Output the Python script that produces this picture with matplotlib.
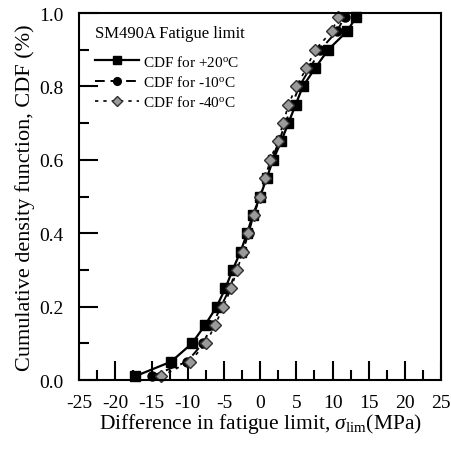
import matplotlib.pyplot as plt
from matplotlib.ticker import MultipleLocator

plt.rcParams["font.family"] = ["Liberation Serif", "DejaVu Serif"]
plt.rcParams["mathtext.fontset"] = "custom"
plt.rcParams["mathtext.rm"] = "Liberation Serif"
plt.rcParams["mathtext.it"] = "Liberation Serif:italic"
plt.rcParams["axes.unicode_minus"] = False

cdf = [0.01, 0.05, 0.10, 0.15, 0.20, 0.25, 0.30, 0.35, 0.40, 0.45, 0.50,
       0.55, 0.60, 0.65, 0.70, 0.75, 0.80, 0.85, 0.90, 0.95, 0.99]
diff_p20 = [-17.3, -12.3, -9.4, -7.6, -6.0, -4.8, -3.8, -2.7, -1.8, -1.0, 0.0,
            0.9, 1.8, 2.9, 3.9, 4.9, 5.9, 7.6, 9.4, 12.0, 13.3]
diff_m10 = [-15.0, -10.1, -7.9, -6.6, -5.4, -4.2, -3.3, -2.4, -1.6, -0.9, 0.0,
            0.8, 1.6, 2.6, 3.5, 4.4, 5.4, 6.9, 8.3, 10.6, 11.7]
diff_m40 = [-13.7, -9.7, -7.5, -6.2, -5.1, -4.0, -3.2, -2.3, -1.7, -0.9, 0.0,
            0.7, 1.4, 2.4, 3.2, 3.9, 5.0, 6.4, 7.6, 9.9, 10.8]

fig = plt.figure(figsize=(4.52, 4.52), dpi=100)
ax = fig.add_axes([0.175, 0.157, 0.801, 0.812])

ax.plot(diff_p20, cdf, color="black", lw=1.6, ls="-",
        marker="s", ms=6.5, mfc="black", mec="black", clip_on=False,
        label="CDF for +20$^{\\rm o}$C")
ax.plot(diff_m10, cdf, color="black", lw=1.4, ls=(0, (5, 3)),
        marker="o", ms=6.5, mfc="black", mec="black", clip_on=False,
        label="CDF for -10$^{\\rm o}$C")
ax.plot(diff_m40, cdf, color="black", lw=1.2, ls=(0, (2, 3)),
        marker="D", ms=6.5, mfc="#9a9a9a", mec="#303030", mew=1.0,
        clip_on=False, label="CDF for -40$^{\\rm o}$C")

ax.set_xlim(-25, 25)
ax.set_ylim(0, 1.0)
ax.xaxis.set_major_locator(MultipleLocator(5))
ax.xaxis.set_minor_locator(MultipleLocator(2.5))
ax.yaxis.set_major_locator(MultipleLocator(0.2))
ax.yaxis.set_minor_locator(MultipleLocator(0.1))
ax.yaxis.set_major_formatter(lambda v, p: "{:.1f}".format(v))
ax.tick_params(which="both", direction="in", top=False, right=False,
               labelsize=14, width=1.5)
ax.tick_params(which="major", length=14)
ax.tick_params(which="minor", length=7)
ax.tick_params(axis="y", pad=11)
ax.tick_params(axis="x", pad=10)
for s in ax.spines.values():
    s.set_linewidth(1.5)

ax.set_xlabel("Difference in fatigue limit, $\\sigma_{\\rm lim}$(MPa)",
              fontsize=15.5, labelpad=0)
ax.set_ylabel("Cumulative density function, CDF (%)", fontsize=16,
              labelpad=3)

leg = ax.legend(loc="upper left", title="SM490A Fatigue limit",
                frameon=False, fontsize=11, title_fontsize=12,
                handlelength=2.9, handletextpad=0.25, labelspacing=0.35,
                borderaxespad=0.4, markerscale=0.85,
                bbox_to_anchor=(0.01, 1.0))
leg._legend_box.align = "left"
leg._legend_box.sep = 9

fig.savefig("out.png", dpi=100)
